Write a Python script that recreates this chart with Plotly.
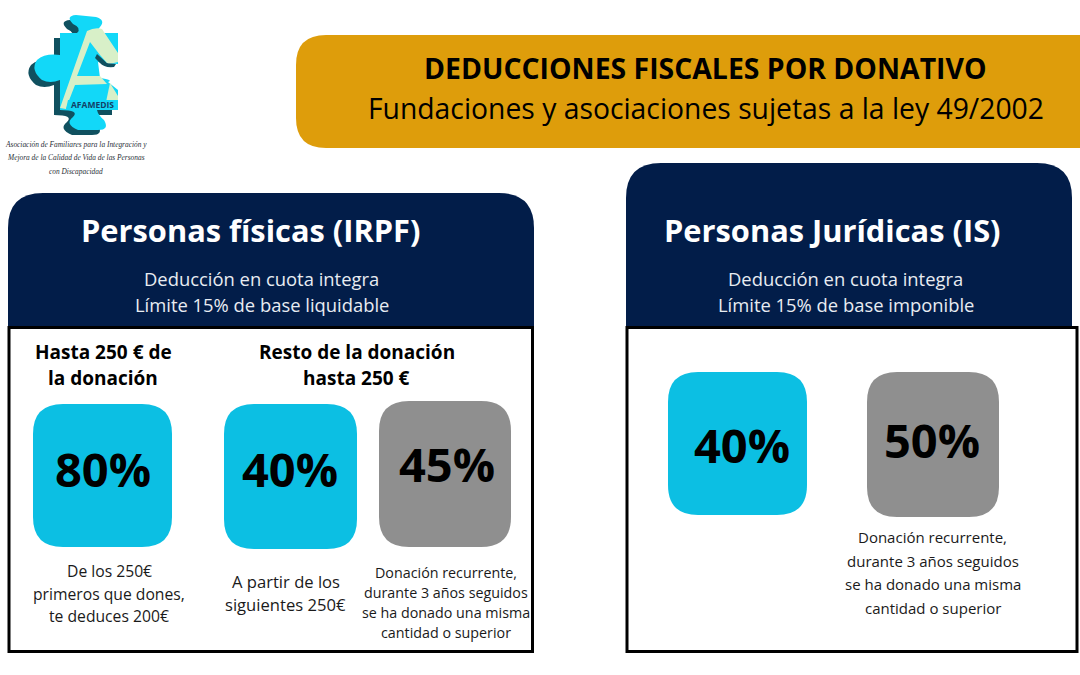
import plotly.graph_objects as go

W, H = 1080, 675
NAVY, CYAN, GRAY, GOLD = "#021d49", "#0cbfe3", "#8f8f8f", "#de9d0b"
FONT = "Open Sans"

title_main = "DEDUCCIONES FISCALES POR DONATIVO"
title_sub = "Fundaciones y asociaciones sujetas a la ley 49/2002"
panel_titles = ["Personas físicas (IRPF)", "Personas Jurídicas (IS)"]
panel_lines = [
    ["Deducción en cuota integra", "Límite 15% de base liquidable"],
    ["Deducción en cuota integra", "Límite 15% de base imponible"],
]
column_heads = [["Hasta 250 € de", "la donación"], ["Resto de la donación", "hasta 250 €"]]
card_values = ["80%", "40%", "45%", "40%", "50%"]
card_colors = [CYAN, CYAN, GRAY, CYAN, GRAY]
card_notes = [
    ["De los 250€", "primeros que dones,", "te deduces 200€"],
    ["A partir de los", "siguientes 250€"],
    ["Donación recurrente,", "durante 3 años seguidos", "se ha donado una misma", "cantidad o superior"],
    [],
    ["Donación recurrente,", "durante 3 años seguidos", "se ha donado una misma", "cantidad o superior"],
]
logo_name = "AFAMEDIS"
logo_lines = [
    "Asociación de Familiares para la Integración y",
    "Mejora de la Calidad de Vida de las Personas",
    "con Discapacidad",
]

# layout geometry (pixels)
card_boxes = [(33, 404, 172, 547), (224, 404, 357, 549), (379, 401, 511, 547),
              (668, 372, 807, 515), (867, 372, 999, 517)]
card_text_xy = [(103, 469), (290, 469), (447, 464), (742, 445), (932, 440)]
note_xy = [(109, 571, 22.5, 15.7), (285.5, 581, 23, 16.6), (445.5, 572, 20, 14.3),
           None, (932.5, 537, 23.5, 15)]


def rrect(x0, y0, x1, y1, tl, tr=None, br=None, bl=None):
    tr = tl if tr is None else tr
    br = tl if br is None else br
    bl = tl if bl is None else bl
    return (f"M{x0 + tl},{y0} L{x1 - tr},{y0} Q{x1},{y0} {x1},{y0 + tr} "
            f"L{x1},{y1 - br} Q{x1},{y1} {x1 - br},{y1} L{x0 + bl},{y1} "
            f"Q{x0},{y1} {x0},{y1 - bl} L{x0},{y0 + tl} Q{x0},{y0} {x0 + tl},{y0} Z")


def path(d, fill, line=None, width=0):
    return dict(type="path", path=d, xref="x", yref="y", fillcolor=fill, layer="below",
                line=dict(color=line or fill, width=width))


def puzzle(dx, dy):
    pts = [
        ("M", 60, 33), ("L", 77, 33), ("Q", 82, 28, 73, 24), ("Q", 65, 16, 76, 15), ("L", 96, 17),
        ("Q", 106, 20, 100, 27), ("Q", 94, 33, 100, 33), ("L", 118, 33), ("L", 118, 110),
        ("L", 97, 110), ("Q", 98, 115, 104, 120), ("Q", 110, 130, 98, 130), ("L", 78, 130),
        ("Q", 64, 124, 73, 117), ("Q", 80, 110, 60, 110), ("L", 60, 80), ("Q", 50, 84, 42, 80),
        ("Q", 30, 70, 37, 60), ("Q", 45, 53, 60, 55),
    ]
    out = []
    for p in pts:
        coords = [v + (dx if i % 2 == 0 else dy) for i, v in enumerate(p[1:])]
        if p[0] == "Q":
            out.append(f"Q{coords[0]},{coords[1]} {coords[2]},{coords[3]}")
        else:
            out.append(f"{p[0]}{coords[0]},{coords[1]}")
    return " ".join(out) + " Z"


shapes = [
    path(puzzle(-6, 5), "#10505f"),
    path(puzzle(0, 0), "#12d8f8"),
    path("M98,62 Q108,64 118,64 L118,90 L108,82 Q114,80 100,78 Z", "#ffffff"),
    path("M97,54 L107,63 L116,64 L114,67 Q104,68 100,63 L95,58 Z", "#10505f"),
    path("M87,31 Q95,27 102,29 L118,53 L118,62 Q111,64 107,63 L100,55 L90,42 L77,76 L100,76 "
         "L107,84 L75,85 L68,103 L66,109 L60,108 Z", "#d8f0c8"),
    path("M110,83 L118,96 L118,102 L106,102 Z", "#d8f0c8"),
    path("M68,100 L118,100 L118,109 L66,109 Z", "#12d8f8"),
    path(rrect(296, 35, 1085, 148, 30, 0, 0, 30), GOLD),
    path(rrect(8, 193, 534, 329, 35, 35, 0, 0), NAVY),
    path(rrect(626, 163, 1072, 329, 35, 35, 0, 0), NAVY),
    dict(type="rect", xref="x", yref="y", x0=9, y0=327.5, x1=532.5, y1=651.5, layer="below",
         fillcolor="#ffffff", line=dict(color="#000000", width=3)),
    dict(type="rect", xref="x", yref="y", x0=627, y0=327.5, x1=1077, y1=651.5, layer="below",
         fillcolor="#ffffff", line=dict(color="#000000", width=3)),
]
for box, color in zip(card_boxes, card_colors):
    shapes.append(path(rrect(*box, 30), color))

ann = []


def text(x, y, s, size, color="#000000", bold=False, family=FONT):
    ann.append(dict(x=x, y=y, xref="x", yref="y", text=f"<b>{s}</b>" if bold else s, showarrow=False,
                    xanchor="center", yanchor="middle",
                    font=dict(family=family, size=size, color=color)))


text(705, 68, title_main, 28.4, bold=True)
text(705.5, 108, title_sub, 28.3)
text(250, 230, panel_titles[0], 30.8, "#ffffff", bold=True)
text(832.5, 230, panel_titles[1], 30.8, "#ffffff", bold=True)
for i, s in enumerate(panel_lines[0]):
    text(261.5, 278 + 26 * i, s, 18.4, "#e8ecf2")
for i, s in enumerate(panel_lines[1]):
    text(845.5, 278 + 26 * i, s, 18.4, "#e8ecf2")
for i, s in enumerate(column_heads[0]):
    text(103, 352 + 26 * i, s, 19, bold=True)
for i, s in enumerate(column_heads[1]):
    text(356.5, 352 + 26 * i, s, 19, bold=True)
for (x, y), s in zip(card_text_xy, card_values):
    text(x, y, s, 47, bold=True)
for xy, lines in zip(note_xy, card_notes):
    if xy:
        x, y, step, size = xy
        for i, s in enumerate(lines):
            text(x, y + step * i, s, size, "#1a1a1a")
text(92, 104, logo_name, 8.5, "#123f66", bold=True)
for i, s in enumerate(logo_lines):
    text(76, 144 + 13.5 * i, f"<i>{s}</i>", 7.4, "#2a2f38", family="Liberation Serif")

fig = go.Figure()
fig.update_layout(
    width=W, height=H, margin=dict(l=0, r=0, t=0, b=0), autosize=False,
    paper_bgcolor="#ffffff", plot_bgcolor="#ffffff", showlegend=False,
    xaxis=dict(range=[0, W], visible=False, fixedrange=True),
    yaxis=dict(range=[H, 0], visible=False, fixedrange=True),
    shapes=shapes, annotations=ann,
)
fig.write_html("out.html", config=dict(displayModeBar=False),
               post_script="document.body.style.margin='0';")
